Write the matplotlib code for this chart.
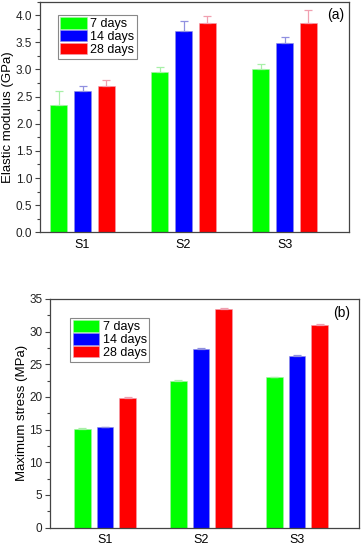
import matplotlib
matplotlib.use("Agg")
import matplotlib.pyplot as plt
from matplotlib.ticker import MultipleLocator
import numpy as np

plt.rcParams['font.family'] = ['Liberation Sans', 'DejaVu Sans']

samples = ["S1", "S2", "S3"]
series = ["7 days", "14 days", "28 days"]
colors = ["#00ff00", "#0000ff", "#ff0000"]
err_colors = ["#a8f0a8", "#9090e0", "#f0a0b0"]

modulus = [[2.35, 2.95, 3.00],
           [2.60, 3.70, 3.48],
           [2.70, 3.85, 3.85]]
modulus_err = [[0.25, 0.10, 0.10],
               [0.10, 0.20, 0.12],
               [0.11, 0.13, 0.25]]

stress = [[15.1, 22.5, 23.0],
          [15.35, 27.3, 26.33],
          [19.85, 33.52, 31.07]]
stress_err = [[0.1, 0.1, 0.1],
              [0.1, 0.15, 0.12],
              [0.1, 0.15, 0.12]]

fig = plt.figure(figsize=(3.62, 5.5), dpi=100)
ax1 = fig.add_axes([0.1105, 0.5776, 0.8536, 0.4196])
ax2 = fig.add_axes([0.138, 0.0409, 0.8536, 0.4155])

spine_color = "#444444"

def draw(ax, vals, errs, ylim, major, minor, ylabel, labelx, xlim, tag, tagpos, legpos, fmt):
    x = np.arange(1, len(samples) + 1)
    width = 0.173
    offs = [-0.237, 0, 0.237]
    handles = []
    for i in range(3):
        b = ax.bar(x + offs[i], vals[i], width, color=colors[i],
                   edgecolor=err_colors[i], linewidth=0.4, label=series[i], zorder=2)
        ax.errorbar(x + offs[i], vals[i], yerr=[np.zeros(3), errs[i]], fmt='none',
                    ecolor=err_colors[i], elinewidth=0.9, capsize=3, capthick=0.9, zorder=3)
        handles.append(b)
    ax.set_xlim(*xlim)
    ax.set_ylim(*ylim)
    ax.set_xticks(x)
    ax.set_xticklabels(samples, fontsize=9)
    ax.tick_params(axis='x', length=0, pad=5)
    ax.yaxis.set_major_locator(MultipleLocator(major))
    ax.yaxis.set_minor_locator(MultipleLocator(minor))
    ax.yaxis.set_major_formatter(fmt)
    ax.tick_params(axis='y', which='major', direction='out', length=3.5, width=0.8,
                   labelsize=8.5, colors=spine_color, labelcolor='#222222', pad=2)
    ax.tick_params(axis='y', which='minor', direction='out', length=2, width=0.8,
                   colors=spine_color)
    for s in ax.spines.values():
        s.set_color(spine_color)
        s.set_linewidth(0.9)
    ax.set_ylabel(ylabel, fontsize=9.5)
    ax.yaxis.set_label_coords(labelx, 0.5)
    ax.yaxis.label.set_va('center')
    ax.text(tagpos[0], tagpos[1], tag, transform=ax.transAxes, fontsize=10,
            ha='center', va='center')
    leg = ax.legend(handles=handles, loc='upper left', bbox_to_anchor=legpos,
                    borderaxespad=0, fontsize=9, handlelength=2.1, handleheight=1.0,
                    labelspacing=0.0, borderpad=0.2, handletextpad=0.3,
                    fancybox=False, framealpha=1, edgecolor='#888888')
    leg.get_frame().set_linewidth(0.8)

draw(ax1, modulus, modulus_err, (0, 4.25), 0.5, 0.25, "Elastic modulus (GPa)", -0.102,
     (0.579, 3.638), "(a)", (0.958, 0.94), (0.058, 0.942), "{x:.1f}")
draw(ax2, stress, stress_err, (0, 35), 5, 2.5, "Maximum stress (MPa)", -0.09,
     (0.427, 3.646), "(b)", (0.945, 0.939), (0.065, 0.917), "{x:.0f}")

fig.savefig("out.png", dpi=100)
